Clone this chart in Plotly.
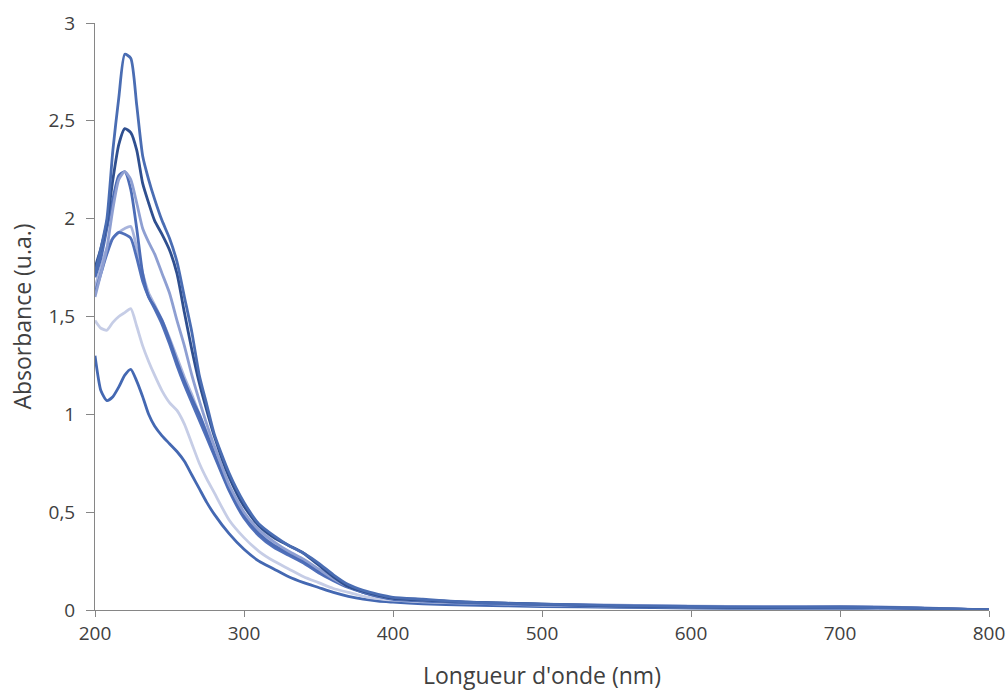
import plotly.graph_objects as go

wavelength = [200, 204, 208, 212, 216, 220, 224, 228, 232, 236, 240, 245, 250, 255, 260,
              265, 270, 275, 280, 290, 300, 310, 320, 330, 340, 350, 360, 370, 380, 390,
              400, 420, 450, 500, 550, 600, 650, 700, 750, 800]

abs_a = [1.72, 1.85, 2.00, 2.35, 2.62, 2.84, 2.82, 2.58, 2.32, 2.20, 2.10, 1.99, 1.90, 1.78, 1.60,
         1.42, 1.20, 1.05, 0.90, 0.70, 0.55, 0.44, 0.38, 0.33, 0.29, 0.24, 0.18, 0.13, 0.10, 0.08,
         0.065, 0.055, 0.04, 0.03, 0.022, 0.018, 0.015, 0.015, 0.01, 0.0]
abs_b = [1.75, 1.85, 1.98, 2.20, 2.38, 2.46, 2.44, 2.35, 2.18, 2.08, 1.99, 1.92, 1.84, 1.72, 1.52,
         1.33, 1.16, 1.02, 0.89, 0.68, 0.53, 0.43, 0.37, 0.33, 0.29, 0.23, 0.17, 0.12, 0.095, 0.075,
         0.06, 0.05, 0.04, 0.03, 0.02, 0.015, 0.012, 0.015, 0.01, 0.0]
abs_c = [1.60, 1.72, 1.85, 2.05, 2.20, 2.24, 2.20, 2.08, 1.95, 1.88, 1.82, 1.72, 1.62, 1.48, 1.35,
         1.20, 1.07, 0.95, 0.84, 0.64, 0.50, 0.41, 0.35, 0.30, 0.26, 0.21, 0.16, 0.12, 0.095, 0.075,
         0.06, 0.05, 0.04, 0.03, 0.025, 0.02, 0.018, 0.018, 0.012, 0.0]
abs_d = [1.70, 1.80, 1.95, 2.10, 2.22, 2.24, 2.15, 1.95, 1.72, 1.60, 1.55, 1.48, 1.38, 1.27, 1.17,
         1.08, 1.00, 0.90, 0.80, 0.62, 0.48, 0.39, 0.33, 0.29, 0.25, 0.20, 0.155, 0.12, 0.09, 0.07,
         0.058, 0.048, 0.038, 0.028, 0.022, 0.018, 0.015, 0.015, 0.01, 0.0]
abs_e = [1.62, 1.72, 1.82, 1.90, 1.93, 1.92, 1.90, 1.80, 1.68, 1.60, 1.54, 1.46, 1.36, 1.25, 1.15,
         1.06, 0.97, 0.88, 0.79, 0.61, 0.47, 0.38, 0.32, 0.28, 0.24, 0.19, 0.15, 0.115, 0.09, 0.07,
         0.055, 0.046, 0.036, 0.027, 0.02, 0.016, 0.014, 0.014, 0.01, 0.0]
abs_f = [1.65, 1.75, 1.85, 1.90, 1.93, 1.95, 1.96, 1.85, 1.72, 1.62, 1.56, 1.48, 1.39, 1.29, 1.19,
         1.10, 1.00, 0.91, 0.82, 0.63, 0.49, 0.40, 0.34, 0.29, 0.25, 0.20, 0.155, 0.12, 0.09, 0.072,
         0.058, 0.048, 0.038, 0.028, 0.022, 0.018, 0.015, 0.016, 0.011, 0.0]
abs_g = [1.48, 1.44, 1.43, 1.47, 1.50, 1.52, 1.54, 1.45, 1.35, 1.27, 1.20, 1.12, 1.06, 1.02, 0.95,
         0.85, 0.75, 0.67, 0.60, 0.46, 0.37, 0.30, 0.25, 0.21, 0.17, 0.14, 0.11, 0.09, 0.07, 0.058,
         0.05, 0.042, 0.035, 0.025, 0.02, 0.015, 0.012, 0.012, 0.008, 0.0]
abs_h = [1.30, 1.12, 1.07, 1.09, 1.14, 1.20, 1.23, 1.17, 1.09, 1.00, 0.94, 0.89, 0.85, 0.81, 0.76,
         0.69, 0.62, 0.55, 0.49, 0.39, 0.31, 0.25, 0.21, 0.17, 0.14, 0.115, 0.09, 0.07, 0.055, 0.045,
         0.04, 0.032, 0.025, 0.018, 0.014, 0.01, 0.008, 0.008, 0.005, 0.0]

series = [abs_h, abs_g, abs_f, abs_e, abs_d, abs_c, abs_b, abs_a]
colors = ["#4468b2", "#c6cde6", "#a8b4dc", "#5070ba", "#4c6cb6", "#8e9fd2", "#2f4f8f", "#4a6db3"]

yticks = [0, 0.5, 1, 1.5, 2, 2.5, 3]
ytick_text = ["0", "0,5", "1", "1,5", "2", "2,5", "3"]
xticks = [200, 300, 400, 500, 600, 700, 800]

fig = go.Figure()
for vals, col in zip(series, colors):
    fig.add_trace(go.Scatter(x=wavelength, y=vals, mode="lines",
                             line=dict(color=col, width=2.8, shape="spline", smoothing=0.6),
                             showlegend=False, hoverinfo="skip"))

fam = "Open Sans, Noto Sans, sans-serif"
tick_font = dict(family=fam, size=19, color="#404040")
title_font = dict(family=fam, size=23, color="#404040")
fig.update_layout(
    width=1008, height=691,
    margin=dict(l=95, r=19, t=23, b=81, autoexpand=False),
    paper_bgcolor="white", plot_bgcolor="white",
    font=tick_font,
    xaxis=dict(range=[200, 800], tickvals=xticks, showgrid=False, zeroline=False,
               showline=True, linecolor="#868686", linewidth=1,
               ticks="outside", ticklen=6, tickcolor="#868686",
               tickfont=tick_font, automargin=False,
               title=dict(text="Longueur d'onde (nm)", font=title_font, standoff=31)),
    yaxis=dict(range=[0, 3], tickvals=yticks, ticktext=ytick_text, showgrid=False, zeroline=False,
               showline=True, linecolor="#868686", linewidth=1,
               ticks="outside", ticklen=8, tickcolor="#868686",
               tickfont=tick_font, automargin=False, ticklabelstandoff=7,
               title=dict(text="Absorbance (u.a.)", font=title_font, standoff=10)),
)

fig.write_html("out.html", config={"displayModeBar": False},
               post_script="document.body.style.margin='0';document.body.style.overflow='hidden';")
